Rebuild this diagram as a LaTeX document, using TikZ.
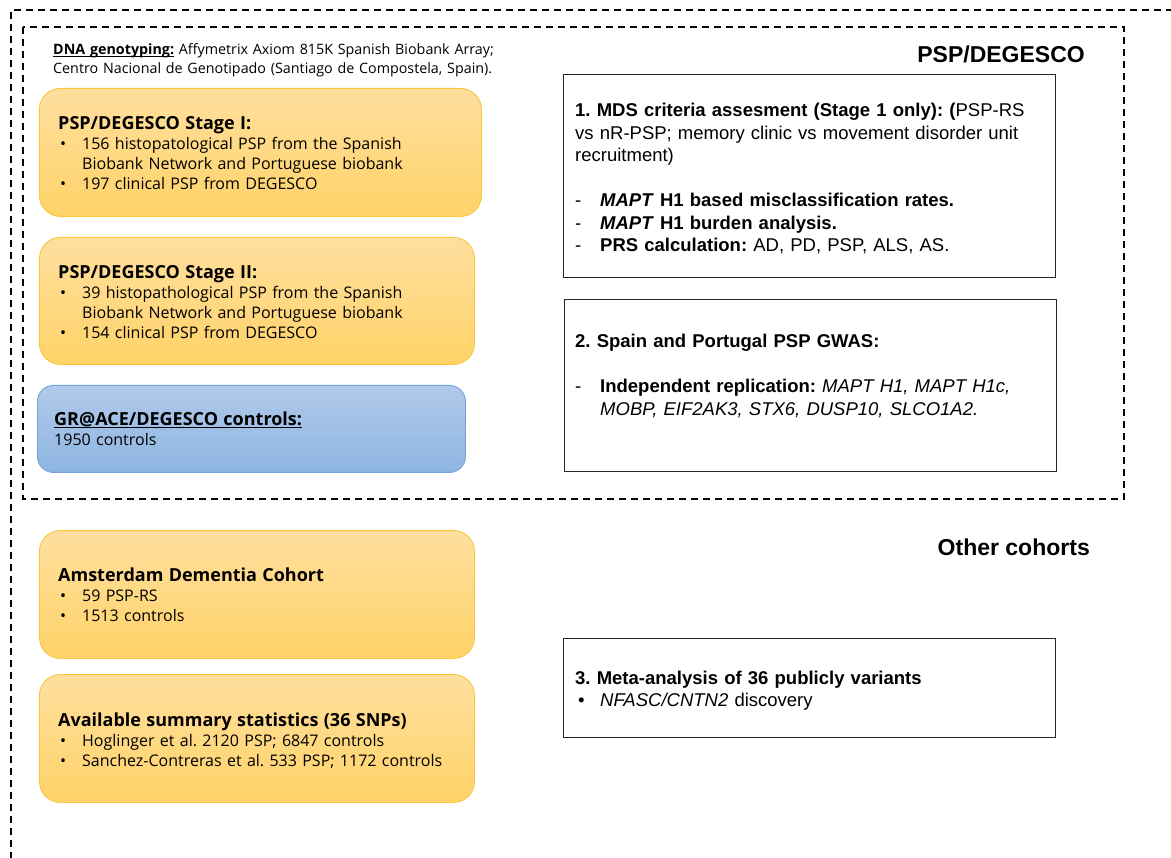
\documentclass[tikz,border=0pt]{standalone}
\usepackage{fontspec}
\setmainfont{Open Sans}
\newfontfamily\arialf{Liberation Sans}
\frenchspacing
\definecolor{ortop}{RGB}{255,223,158}
\definecolor{orbot}{RGB}{255,211,104}
\definecolor{orline}{RGB}{250,198,60}
\definecolor{bltop}{RGB}{176,202,234}
\definecolor{blbot}{RGB}{142,181,226}
\definecolor{blline}{RGB}{115,162,218}
\newcommand\ttlfont{\fontsize{18}{20}\selectfont\bfseries}
\newcommand\bulitem{\makebox[24pt][l]{\hspace{2pt}\textbullet}}
\newcommand\dashitem{\makebox[25pt][l]{-}}
\newcommand\rbulitem{\makebox[25pt][l]{\hspace{3pt}\textbullet}}
\newsavebox\ulbox
\newcommand\ultext[2]{\sbox\ulbox{#2}\rlap{\rule[-#1]{\wd\ulbox}{1pt}}\usebox\ulbox}
\begin{document}
\begin{tikzpicture}[x=1pt,y=-1pt,
  obox/.style={draw=orline, line width=0.9pt, rounded corners=21pt, top color=ortop, bottom color=orbot, anchor=north west, inner sep=0pt},
  bbox/.style={draw=blline, line width=0.9pt, rounded corners=16pt, top color=bltop, bottom color=blbot, anchor=north west, inner sep=0pt},
  rbox/.style={draw=black!85, line width=1.3pt, fill=white, anchor=north west, inner sep=0pt},
  ltext/.style={anchor=base west, inner sep=0pt, text width=520pt, align=left, font=\fontsize{16}{20}\selectfont},
  rtext/.style={anchor=base west, inner sep=0pt, text width=520pt, align=left, font=\arialf\fontsize{18.5}{22.5}\selectfont},
  heading/.style={anchor=base east, inner sep=0pt, font=\arialf\bfseries\fontsize{23}{27}\selectfont},
  frame/.style={draw=black, line width=1.1pt, dash pattern=on 7pt off 5pt}]
\useasboundingbox (0,0) rectangle (1171,858);
\clip (0,0) rectangle (1171,858);
% dashed frames
\draw[frame] (1185,10) -- (11,10) -- (11,875);
\draw[frame] (23,27) rectangle (1124,499);
% headings
\node[heading] (h1) at (1085,63) {PSP/DEGESCO};
\node[heading] (h2) at (1090,555) {Other cohorts};
% genotyping note
\node[ltext, font=\fontsize{14.3}{18.5}\selectfont] (dna) at (53,55)
  {\ultext{2.2pt}{\textbf{DNA genotyping:}} Affymetrix Axiom 815K Spanish Biobank Array;\\
   Centro Nacional de Genotipado (Santiago de Compostela, Spain).};
% left boxes
\node[obox, minimum width=442pt, minimum height=128pt] (s1) at (39,88) {};
\node[obox, minimum width=435pt, minimum height=127pt] (s2) at (39,237) {};
\node[bbox, minimum width=428pt, minimum height=87pt] (gr) at (37,385) {};
\node[obox, minimum width=435pt, minimum height=128pt] (am) at (39,530) {};
\node[obox, minimum width=435pt, minimum height=128pt] (av) at (39,674) {};
\node[ltext] (s1t) at (58,129.5)
  {{\ttlfont PSP/DEGESCO Stage I:}\\
   \bulitem 156 histopatological PSP from the Spanish\\
   \hspace*{24pt}Biobank Network and Portuguese biobank\\
   \bulitem 197 clinical PSP from DEGESCO};
\node[ltext] (s2t) at (58,278.5)
  {{\ttlfont PSP/DEGESCO Stage II:}\\
   \bulitem 39 histopathological PSP from the Spanish\\
   \hspace*{24pt}Biobank Network and Portuguese biobank\\
   \bulitem 154 clinical PSP from DEGESCO};
\node[ltext] (grt) at (54,426)
  {{\ttlfont\ultext{2.5pt}{GR@ACE/DEGESCO controls:}}\\
   1950 controls};
\node[ltext] (amt) at (58,581.5)
  {{\ttlfont Amsterdam Dementia Cohort}\\
   \bulitem 59 PSP-RS\\
   \bulitem 1513 controls};
\node[ltext] (avt) at (58,726.5)
  {{\ttlfont Available summary statistics (36 SNPs)}\\
   \bulitem Hoglinger et al. 2120 PSP; 6847 controls\\
   \bulitem Sanchez-Contreras et al. 533 PSP; 1172 controls};
% right boxes
\node[rbox, minimum width=492pt, minimum height=203pt] (b1) at (563,74) {};
\node[rbox, minimum width=492pt, minimum height=172pt] (b2) at (564,299) {};
\node[rbox, minimum width=492pt, minimum height=99pt] (b3) at (563,638) {};
\node[rtext] (b1t) at (575,117)
  {\textbf{1. MDS criteria assesment (Stage 1 only): (}PSP-RS\\
   vs nR-PSP; memory clinic vs movement disorder unit\\
   recruitment)\\[22.5pt]
   \dashitem\textbf{\textit{MAPT} H1 based misclassification rates.}\\
   \dashitem\textbf{\textit{MAPT} H1 burden analysis.}\\
   \dashitem\textbf{PRS calculation:} AD, PD, PSP, ALS, AS.};
\node[rtext] (b2t) at (575,348)
  {\textbf{2. Spain and Portugal PSP GWAS:}\\[22.5pt]
   \dashitem\textbf{Independent replication:} \textit{MAPT H1, MAPT H1c,}\\
   \hspace*{25pt}\textit{MOBP, EIF2AK3, STX6, DUSP10, SLCO1A2.}};
\node[rtext] (b3t) at (575,684)
  {\textbf{3. Meta-analysis of 36 publicly variants}\\
   \rbulitem\textit{NFASC/CNTN2} discovery};
\end{tikzpicture}
\end{document}
